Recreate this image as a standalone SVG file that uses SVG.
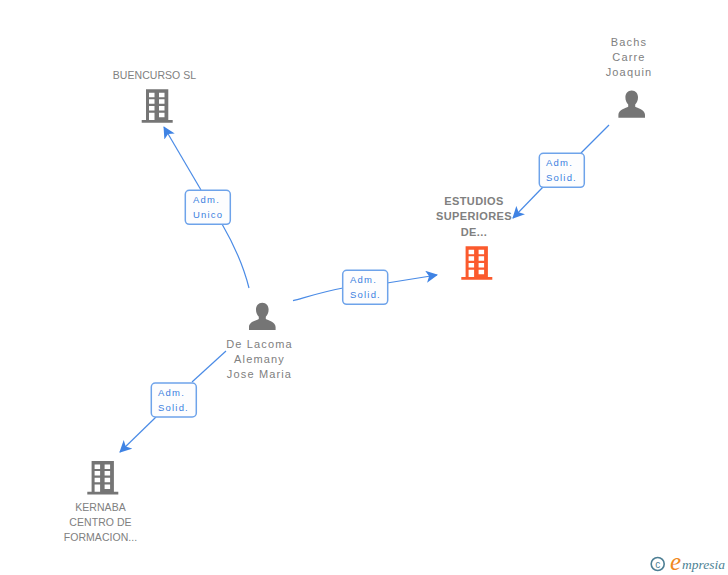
<svg xmlns="http://www.w3.org/2000/svg" width="728" height="575" viewBox="0 0 728 575">
<style>
.lbl{font-family:"Liberation Sans",Arial,sans-serif;font-size:11px;letter-spacing:1.15px;fill:#808080;text-anchor:middle}
.up{font-size:10.5px;letter-spacing:.05px}
.main{font-weight:bold;letter-spacing:.4px;font-size:11px}
.edge{fill:none;stroke:#4a8be6;stroke-width:1.2}
.box{fill:#fdfdfe;stroke:#6ea3ea;stroke-width:1.5}
.tag{font-family:"Liberation Sans",Arial,sans-serif;font-size:9.5px;letter-spacing:1.2px;fill:#3b7fe0}
</style>
<defs>
<marker id="ah" viewBox="0 0 12 12" refX="11" refY="6" markerWidth="12" markerHeight="12" markerUnits="userSpaceOnUse" orient="auto"><path d="M0 0L12 6L0 12L3 6Z" fill="#3f83e4"/></marker>
<g id="bld">
<path d="M4.300 0H26.600V30.700H31V33.400H0V30.700H4.300Z"/>
<path fill="#fff" d="M7.300 3.400h5.500v4.500h-5.500zM17.300 3.400h5.500v4.500h-5.500zM7.300 10h5.500v4.500h-5.500zM17.300 10h5.500v4.500h-5.500zM7.300 16.700h5.500v4.500h-5.500zM17.300 16.700h5.500v4.500h-5.500zM7.300 23.400h5.500v7.300h-5.500zM17.300 23.400h5.500v4.500h-5.500z"/>
</g>
<path id="psn" d="M0 -27.300C-4 -27.300 -6.300 -24 -6.300 -20.500C-6.300 -17.500 -5.300 -15 -3.500 -13.300V-11C-5.500 -9.500 -13.300 -8.500 -13.300 -3V0H13.300V-3C13.300 -8.500 5.500 -9.500 3.500 -11V-13.300C5.300 -15 6.300 -17.500 6.300 -20.500C6.300 -24 4 -27.300 0 -27.300Z"/>
</defs>
<g id="connectors">
<path class="edge" d="M249 288C243 264 233 243 222 224"/>
<path class="edge" marker-end="url(#ah)" d="M201 190L164 127"/>
<path class="edge" d="M609 125L581 153"/>
<path class="edge" marker-end="url(#ah)" d="M543 187L513 218"/>
<path class="edge" d="M293 300.700C310 296 326 291 343 288"/>
<path class="edge" marker-end="url(#ah)" d="M387 283L437 275"/>
<path class="edge" d="M226 351L192 382"/>
<path class="edge" marker-end="url(#ah)" d="M156 417L120 452"/>
</g>
<g id="edge-label-1"><rect class="box" x="185.300" y="190.300" width="45" height="34" rx="4"/><text class="tag" x="193" y="203">Adm.</text><text class="tag" x="193" y="218">Unico</text></g>
<g id="edge-label-2"><rect class="box" x="539.300" y="153.300" width="45" height="34" rx="4"/><text class="tag" x="546" y="166">Adm.</text><text class="tag" x="546" y="181">Solid.</text></g>
<g id="edge-label-3"><rect class="box" x="342.700" y="270.300" width="45" height="34" rx="4"/><text class="tag" x="350" y="283">Adm.</text><text class="tag" x="350" y="298">Solid.</text></g>
<g id="edge-label-4"><rect class="box" x="151.300" y="383" width="45" height="34" rx="4"/><text class="tag" x="158" y="396">Adm.</text><text class="tag" x="158" y="411">Solid.</text></g>
<g id="node-buencurso"><text class="lbl up" x="154.500" y="79">BUENCURSO SL</text><use href="#bld" x="141.700" y="89.300" fill="#757575"/></g>
<g id="node-bachs"><text class="lbl" x="629" y="46">Bachs</text><text class="lbl" x="629" y="61">Carre</text><text class="lbl" x="629" y="76">Joaquin</text><use href="#psn" x="631.700" y="117.700" fill="#757575"/></g>
<g id="node-estudios"><text class="lbl main" x="474" y="205">ESTUDIOS</text><text class="lbl main" x="474" y="220">SUPERIORES</text><text class="lbl main" x="474" y="236">DE...</text><use href="#bld" x="461.300" y="246.300" fill="#fb5a2d"/></g>
<g id="node-delacoma"><use href="#psn" x="262.300" y="330" fill="#757575"/><text class="lbl" x="259.500" y="348">De Lacoma</text><text class="lbl" x="259.500" y="363">Alemany</text><text class="lbl" x="259.500" y="378">Jose Maria</text></g>
<g id="node-kernaba"><use href="#bld" x="87.300" y="461" fill="#757575"/><text class="lbl up" x="100.500" y="511">KERNABA</text><text class="lbl up" x="100.500" y="526">CENTRO DE</text><text class="lbl up" x="100.500" y="541">FORMACION...</text></g>
<g id="logo"><circle cx="657.700" cy="564" r="6.500" fill="none" stroke="#4d7f94" stroke-width="1.600"/><text x="657.700" y="567.500" text-anchor="middle" font-family="Liberation Sans,sans-serif" font-size="10" fill="#4d7f94">c</text><text x="670" y="570" font-family="Liberation Serif,serif" font-style="italic" font-size="25" fill="#f08a1e">e</text><text x="682" y="569" font-family="Liberation Serif,serif" font-style="italic" font-size="13.500" textLength="43" fill="#4d8294">mpresia</text></g>
</svg>
